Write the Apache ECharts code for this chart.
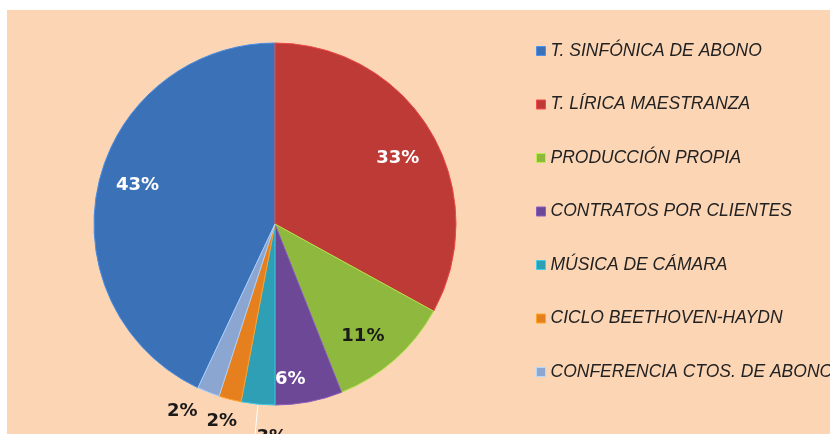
<!DOCTYPE html>
<html>
<head>
<meta charset="utf-8">
<script src="https://cdn.jsdelivr.net/npm/echarts@6/dist/echarts.min.js"></script>
<style>
  html, body { margin: 0; padding: 0; background: #fff; }
  #main { width: 830px; height: 434px; }
</style>
</head>
<body>
<div id="main"></div>
<script>
var categories = ['T. SINFÓNICA DE ABONO', 'T. LÍRICA MAESTRANZA', 'PRODUCCIÓN PROPIA',
    'CONTRATOS POR CLIENTES', 'MÚSICA DE CÁMARA', 'CICLO BEETHOVEN-HAYDN', 'CONFERENCIA CTOS. DE ABONO'];
var shares = [43, 33, 11, 6, 3, 2, 2];
var colors = ['#3a71b7', '#bd3a36', '#8fb83e', '#6c4896', '#2f9fb6', '#e6801f', '#8ba7d1'];
var labelColors = ['#ffffff', '#ffffff', '#1a1a1a', '#ffffff', '#1a1a1a', '#1a1a1a', '#1a1a1a'];
// small slices get their label outside the pie
var outside = [false, false, false, false, true, true, true];
// nudges so the labels sit where Excel put them
var labelNudge = [[4, -7], [-2, 8], [-8, 4], [-12, 13], [37, 3], [17, 3], [3, 4]];
var lineLength = [0, 0, 0, 0, 30, 20, 16];
var lineLength2 = [0, 0, 0, 0, 0, 0, 3];

var myChart = echarts.init(document.getElementById('main'));

var center = [275, 224];
var total = shares.reduce(function (a, b) { return a + b; }, 0);
var start = 90 + shares[0] / total * 360;   // blue slice ends at the top

var sliceData = categories.map(function (name, i) {
    var item = {
        name: name,
        value: shares[i],
        itemStyle: { color: colors[i], borderColor: echarts.color.lift(colors[i], -0.25), borderWidth: 1 }
    };
    if (outside[i]) {
        item.label = { show: true, position: 'outside', color: labelColors[i] };
        item.labelLine = {
            show: i == 4, length: lineLength[i], length2: lineLength2[i],
            lineStyle: { color: '#ffffff', width: 1 }
        };
    } else {
        item.label = { show: false };
    }
    return item;
});

var innerLabelData = categories.map(function (name, i) {
    return {
        name: name,
        value: shares[i],
        label: { show: !outside[i], color: labelColors[i] }
    };
});

var labelFont = { fontFamily: 'Verdana, "DejaVu Sans", sans-serif', fontWeight: 'bold', fontSize: 18 };

function nudge(params) {
    var n = labelNudge[params.dataIndex];
    return { dx: n[0], dy: n[1], hideOverlap: false };
}

var option = {
    backgroundColor: '#ffffff',
    animation: false,
    graphic: [{
        type: 'rect', z: -10,
        shape: { x: 7, y: 10, width: 830, height: 430 },
        style: { fill: '#fcd5b5' }
    }],
    legend: {
        orient: 'vertical',
        left: 531,
        top: 37,
        icon: 'rect',
        itemWidth: 9,
        itemHeight: 9,
        itemGap: 35.5,
        data: categories.map(function (name, i) {
            return { name: name, itemStyle: { color: colors[i], borderColor: echarts.color.lift(colors[i], -0.3), borderWidth: 1 } };
        }),
        textStyle: {
            fontFamily: '"Liberation Sans", Arial, sans-serif',
            fontStyle: 'italic',
            fontSize: 17.5,
            color: '#222222',
            padding: [0, 0, 0, 0]
        }
    },
    series: [
        {
            type: 'pie',
            name: 'slices',
            center: center,
            radius: [0, 181],
            startAngle: start,
            clockwise: true,
            avoidLabelOverlap: false,
            label: Object.assign({ formatter: '{c}%' }, labelFont),
            labelLayout: nudge,
            emphasis: { disabled: true },
            data: sliceData
        },
        {
            // transparent ring only used to put the inner labels nearer the rim
            type: 'pie',
            name: 'labels',
            center: center,
            radius: [100, 184],
            startAngle: start,
            clockwise: true,
            silent: true,
            legendHoverLink: false,
            itemStyle: { color: 'rgba(0,0,0,0)' },
            label: Object.assign({ position: 'inside', formatter: '{c}%' }, labelFont),
            labelLayout: nudge,
            labelLine: { show: false },
            emphasis: { disabled: true },
            data: innerLabelData
        }
    ]
};

myChart.setOption(option);
</script>
</body>
</html>
